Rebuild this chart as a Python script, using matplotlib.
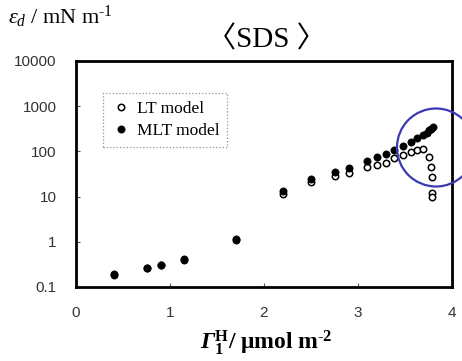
import numpy as np
import matplotlib
matplotlib.use("Agg")
import matplotlib.pyplot as plt
from matplotlib.patches import Ellipse
from matplotlib.ticker import FixedLocator, FixedFormatter

plt.rcParams['mathtext.fontset'] = 'custom'
plt.rcParams['mathtext.rm'] = 'Liberation Serif'
plt.rcParams['mathtext.it'] = 'Liberation Serif:italic'
plt.rcParams['mathtext.bf'] = 'Liberation Serif:bold'
plt.rcParams['mathtext.bfit'] = 'Liberation Serif:italic:bold'

# Daten
x_lt = [0.40, 0.75, 0.90, 1.15, 1.70, 2.20, 2.50, 2.75, 2.90, 3.10, 3.20, 3.30,
        3.38, 3.48, 3.56, 3.63, 3.69, 3.75, 3.78, 3.785, 3.785, 3.785]
y_lt = [0.185, 0.26, 0.30, 0.40, 1.1, 11.7, 20.8, 28, 34, 45, 49, 56,
        70, 83, 96, 107, 115, 76, 46, 27, 12, 9.6]

x_mlt = [0.40, 0.75, 0.90, 1.15, 1.70, 2.20, 2.50, 2.75, 2.90, 3.10, 3.20, 3.30,
         3.38, 3.48, 3.56, 3.63, 3.69, 3.73, 3.76, 3.78, 3.80]
y_mlt = [0.19, 0.27, 0.31, 0.41, 1.15, 13, 24.5, 35, 44, 61, 74, 88,
         110, 131, 164, 195, 230, 260, 290, 320, 345]

x_ticks = [0, 1, 2, 3, 4]
y_ticks = [0.1, 1, 10, 100, 1000, 10000]
y_ticklabels = ["0.1", "1", "10", "100", "1000", "10000"]

W, H = 462, 361
fig = plt.figure(figsize=(W / 100, H / 100), dpi=100)
ax = fig.add_axes([76 / W, 1 - 287 / H, 376 / W, 226 / H])

ax.plot(x_lt, y_lt, "o", ms=4.6, mfc="white", mec="black", mew=1.1,
        label="LT model", zorder=3)
ax.plot(x_mlt, y_mlt, "o", ms=5.2, mfc="black", mec="black", mew=0.5,
        label="MLT model", zorder=4)

ax.set_yscale("log")
ax.set_xlim(0, 4)
ax.set_ylim(0.1, 10000)
ax.xaxis.set_major_locator(FixedLocator(x_ticks))
ax.yaxis.set_major_locator(FixedLocator(y_ticks))
ax.yaxis.set_major_formatter(FixedFormatter(y_ticklabels))
ax.yaxis.set_minor_locator(FixedLocator([]))

for s in ax.spines.values():
    s.set_linewidth(2.0)
ax.tick_params("both", direction="in", length=3, width=0.8, color="#555555",
               labelsize=11, labelcolor="#333333", pad=14)
for lab in ax.get_xticklabels() + ax.get_yticklabels():
    lab.set_family("Liberation Sans")

# Legende
leg = ax.legend(loc="upper left", bbox_to_anchor=(103 / W, 1 - 93 / H),
                bbox_transform=fig.transFigure, fancybox=False,
                prop={"family": "Liberation Serif", "size": 12.5},
                handletextpad=0.3, handlelength=1.2, borderpad=0.45,
                labelspacing=0.35, borderaxespad=0)
leg.get_frame().set_linestyle(":")
leg.get_frame().set_edgecolor("#777777")
leg.get_frame().set_linewidth(0.9)

# Texte
fig.text(8 / W, 1 - 17 / H, r"$\mathit{\varepsilon_d}$ / mN m$^{\text{-1}}$",
         family="Liberation Serif", fontsize=16, va="center", ha="left")
fig.text(266 / W, 1 - 40 / H, "〈SDS 〉", family=["Liberation Serif", "Noto Sans CJK JP"],
         fontsize=21, va="center", ha="center")
fig.text(266 / W, 1 - 343 / H,
         r"$\mathbfit{\Gamma}_{\mathbf{1}}^{\mathbf{H}}\mathbf{/\ \mu mol\ m}^{\mathbf{\text{-}2}}$",
         fontsize=17, va="center", ha="center")

# Kreis
fig.add_artist(Ellipse((436 / W, 1 - 147.5 / H), 78 / W, 78 / H,
                       transform=fig.transFigure, fill=False,
                       edgecolor="#3a3ab4", linewidth=1.6, clip_on=False))

fig.savefig("out.png", dpi=100)
